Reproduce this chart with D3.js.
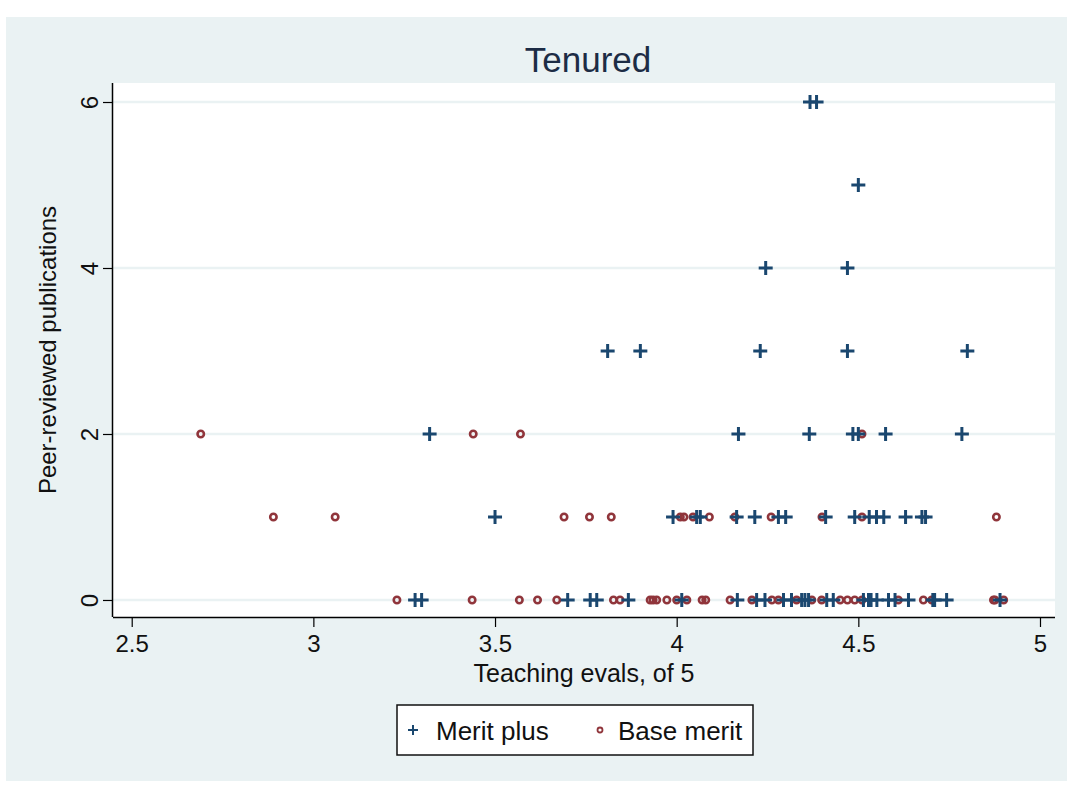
<!DOCTYPE html>
<html>
<head>
<meta charset="utf-8">
<script src="https://cdn.jsdelivr.net/npm/d3@7"></script>
<style>
  body { margin: 0; background: #fff; }
  svg { display: block; font-family: Arial, "Liberation Sans", sans-serif; }
</style>
</head>
<body>
<div id="chart"></div>
<script>
var width = 1073,
    height = 787;

// teaching eval (x) / publications (y) pairs
var meritPlus = [
  [4.367, 6], [4.385, 6],
  [4.50, 5],
  [4.245, 4], [4.47, 4],
  [3.81, 3], [3.90, 3], [4.23, 3], [4.47, 3], [4.80, 3],
  [3.32, 2], [4.17, 2], [4.365, 2], [4.485, 2], [4.50, 2], [4.575, 2], [4.785, 2],
  [3.50, 1], [3.99, 1], [4.055, 1], [4.065, 1], [4.165, 1], [4.215, 1], [4.28, 1], [4.30, 1],
  [4.41, 1], [4.49, 1], [4.53, 1], [4.55, 1], [4.57, 1], [4.63, 1], [4.675, 1], [4.685, 1],
  [3.28, 0], [3.298, 0], [3.70, 0], [3.762, 0], [3.78, 0], [3.867, 0], [4.014, 0], [4.167, 0],
  [4.22, 0], [4.243, 0], [4.294, 0], [4.316, 0], [4.344, 0], [4.353, 0], [4.363, 0], [4.413, 0],
  [4.431, 0], [4.514, 0], [4.528, 0], [4.535, 0], [4.551, 0], [4.583, 0], [4.601, 0], [4.638, 0],
  [4.705, 0], [4.71, 0], [4.743, 0], [4.89, 0]
];

var baseMerit = [
  [2.69, 2], [3.44, 2], [3.57, 2], [4.51, 2],
  [2.89, 1], [3.06, 1], [3.69, 1], [3.76, 1], [3.82, 1], [4.01, 1], [4.02, 1], [4.045, 1],
  [4.09, 1], [4.16, 1], [4.26, 1], [4.40, 1], [4.51, 1], [4.88, 1],
  [3.23, 0], [3.437, 0], [3.567, 0], [3.617, 0], [3.67, 0], [3.826, 0], [3.844, 0], [3.927, 0],
  [3.935, 0], [3.945, 0], [3.973, 0], [4.00, 0], [4.028, 0], [4.07, 0], [4.08, 0], [4.147, 0],
  [4.207, 0], [4.262, 0], [4.28, 0], [4.33, 0], [4.372, 0], [4.399, 0], [4.45, 0], [4.47, 0],
  [4.49, 0], [4.51, 0], [4.61, 0], [4.679, 0], [4.702, 0], [4.872, 0], [4.876, 0], [4.90, 0]
];

var xTicks = [2.5, 3, 3.5, 4, 4.5, 5];
var yTicks = [0, 2, 4, 6];
var panelTitle = "Tenured";
var xTitle = "Teaching evals, of 5";
var yTitle = "Peer-reviewed publications";
var seriesNames = ["Merit plus", "Base merit"];

var navy = "#1a476f",
    maroon = "#90353b",
    bg = "#eaf2f3";

var plot = { left: 113, right: 1055, top: 83, bottom: 617 };

var x = d3.scaleLinear().domain([2.4485, 5.0413]).range([plot.left, plot.right]);
var y = d3.scaleLinear().domain([-0.205, 6.229]).range([plot.bottom, plot.top]);

var svg = d3.select("#chart").append("svg")
    .attr("width", width)
    .attr("height", height);

// outer graph region
svg.append("rect")
    .attr("x", 6).attr("y", 17)
    .attr("width", 1061).attr("height", 764)
    .attr("fill", bg);

// plot region
svg.append("rect")
    .attr("x", plot.left).attr("y", plot.top)
    .attr("width", plot.right - plot.left).attr("height", plot.bottom - plot.top)
    .attr("fill", "#fff");

// grid
svg.append("g")
    .selectAll("line")
    .data(yTicks)
    .join("line")
    .attr("x1", plot.left).attr("x2", plot.right)
    .attr("y1", d => y(d)).attr("y2", d => y(d))
    .attr("stroke", bg)
    .attr("stroke-width", 2.5);

// axes
var xAxis = svg.append("g")
    .attr("transform", `translate(0,${plot.bottom})`)
    .call(d3.axisBottom(x).tickValues(xTicks).tickSize(10).tickPadding(8).tickFormat(d3.format("")));
xAxis.select(".domain").attr("d", `M${plot.left},0.5H${plot.right}`).attr("stroke", "#000").attr("stroke-width", 1.5);
xAxis.selectAll(".tick line").attr("stroke", "#000").attr("stroke-width", 1.2);
xAxis.selectAll("text").attr("font-size", 24).attr("fill", "#111");

var yAxis = svg.append("g")
    .attr("transform", `translate(${plot.left},0)`)
    .call(d3.axisLeft(y).tickValues(yTicks).tickSize(10).tickFormat(d3.format("d")));
yAxis.select(".domain").attr("d", `M-0.5,${plot.top}V${plot.bottom}`).attr("stroke", "#000").attr("stroke-width", 1.5);
yAxis.selectAll(".tick line").attr("stroke", "#000").attr("stroke-width", 1.2);
yAxis.selectAll("text")
    .attr("font-size", 24).attr("fill", "#111")
    .attr("x", null).attr("dy", null)
    .attr("text-anchor", "middle")
    .attr("transform", "translate(-15,0) rotate(-90)")
    .attr("dy", "0");

// titles
svg.append("text")
    .attr("x", (plot.left + plot.right) / 2 + 4).attr("y", 72)
    .attr("text-anchor", "middle")
    .attr("font-size", 35)
    .attr("fill", "#1c2c45")
    .text(panelTitle);

svg.append("text")
    .attr("x", (plot.left + plot.right) / 2).attr("y", 682)
    .attr("text-anchor", "middle")
    .attr("font-size", 25)
    .attr("fill", "#111")
    .text(xTitle);

svg.append("text")
    .attr("transform", `translate(56,${(plot.top + plot.bottom) / 2}) rotate(-90)`)
    .attr("text-anchor", "middle")
    .attr("font-size", 24)
    .attr("fill", "#111")
    .text(yTitle);

// markers
var plusPath = "M-7,0H7M0,-7V7";

svg.append("g")
    .selectAll("circle")
    .data(baseMerit)
    .join("circle")
    .attr("cx", d => x(d[0]))
    .attr("cy", d => y(d[1]))
    .attr("r", 3.2)
    .attr("fill", "none")
    .attr("stroke", maroon)
    .attr("stroke-width", 2.6);

svg.append("g")
    .selectAll("path")
    .data(meritPlus)
    .join("path")
    .attr("transform", d => `translate(${x(d[0])},${y(d[1])})`)
    .attr("d", plusPath)
    .attr("stroke", navy)
    .attr("stroke-width", 3);

// legend
var legend = svg.append("g");
legend.append("rect")
    .attr("x", 397).attr("y", 705)
    .attr("width", 356).attr("height", 50)
    .attr("fill", "#fff")
    .attr("stroke", "#111")
    .attr("stroke-width", 1.5);

legend.append("path")
    .attr("transform", "translate(413,730)")
    .attr("d", "M-5,0H5M0,-5V5")
    .attr("stroke", navy)
    .attr("stroke-width", 2);
legend.append("text")
    .attr("x", 436).attr("y", 740)
    .attr("font-size", 26).attr("fill", "#111")
    .text(seriesNames[0]);

legend.append("circle")
    .attr("cx", 600).attr("cy", 730)
    .attr("r", 2.5)
    .attr("fill", "none")
    .attr("stroke", maroon)
    .attr("stroke-width", 1.8);
legend.append("text")
    .attr("x", 618).attr("y", 740)
    .attr("font-size", 26).attr("fill", "#111")
    .text(seriesNames[1]);
</script>
</body>
</html>
